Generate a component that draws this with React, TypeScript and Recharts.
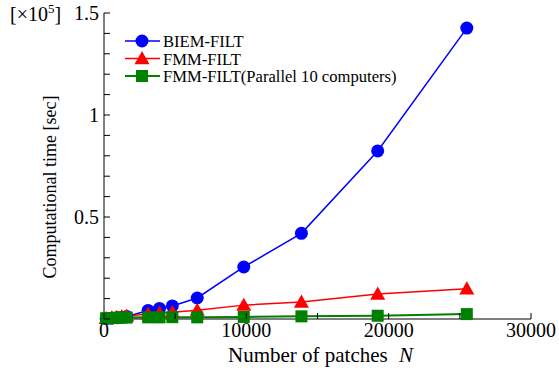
import { LineChart, Line, XAxis, YAxis, Legend, Label } from 'recharts'

// number of patches N
const patches = [150, 550, 900, 1250, 1600, 3100, 3900, 4800, 6550, 9820, 13870, 19230, 25490]
// computational time, in units of 10^5 sec
const biemFilt = [0.002, 0.004, 0.006, 0.009, 0.012, 0.042, 0.052, 0.064, 0.103, 0.255, 0.42, 0.824, 1.426]
const fmmFilt = [0.003, 0.006, 0.009, 0.012, 0.015, 0.025, 0.029, 0.033, 0.043, 0.068, 0.083, 0.122, 0.148]
const fmmParallel = [0.004, 0.005, 0.006, 0.007, 0.007, 0.008, 0.008, 0.009, 0.008, 0.01, 0.013, 0.016, 0.024]

const xTicks = [0, 5000, 10000, 15000, 20000, 25000, 30000]
const xLabels = [0, 10000, 20000, 30000]
const yTicks = [0, 0.1, 0.2, 0.3, 0.4, 0.5, 0.6, 0.7, 0.8, 0.9, 1, 1.1, 1.2, 1.3, 1.4, 1.5]
const yLabels = [0.5, 1, 1.5]

const SERIES = [
  { key: 'biem', name: 'BIEM-FILT', color: '#0000ff', shape: 'circle', width: 1.5 },
  { key: 'fmm', name: 'FMM-FILT', color: '#ff0000', shape: 'triangle', width: 1.5 },
  { key: 'par', name: 'FMM-FILT(Parallel 10 computers)', color: '#008000', shape: 'square', width: 2 },
]

const data = patches.map((n, i) => ({
  n,
  biem: biemFilt[i],
  fmm: fmmFilt[i],
  par: fmmParallel[i],
}))

const FONT = 'Liberation Serif, Tinos, DejaVu Serif, serif'
const TICK_LEN = 6

function Marker({ cx, cy, shape, color }: { cx: number; cy: number; shape: string; color: string }) {
  if (cx == null || cy == null) return null
  if (shape === 'circle') return <circle cx={cx} cy={cy} r={6.5} fill={color} />
  if (shape === 'triangle') {
    const s = 7.5
    return <polygon points={`${cx},${cy - s} ${cx + s},${cy + s * 0.75} ${cx - s},${cy + s * 0.75}`} fill={color} />
  }
  return <rect x={cx - 6} y={cy - 6} width={12} height={12} fill={color} />
}

function BottomTick(props: any) {
  const { x, y, payload } = props
  const show = xLabels.includes(payload.value)
  return (
    <g>
      <line x1={x} y1={y} x2={x} y2={y - TICK_LEN} stroke="#000" />
      {show && (
        <text x={x} y={y + 18} textAnchor="middle" fontSize={20} style={{ fontFamily: FONT }} fill="#000">
          {payload.value}
        </text>
      )}
    </g>
  )
}

function TopTick(props: any) {
  const { x, y } = props
  return <line x1={x} y1={y} x2={x} y2={y + TICK_LEN} stroke="#000" />
}

function LeftTick(props: any) {
  const { x, y, payload } = props
  const show = yLabels.includes(payload.value)
  return (
    <g>
      <line x1={x} y1={y} x2={x + TICK_LEN} y2={y} stroke="#000" />
      {show && (
        <text x={x - 5} y={y + 7} textAnchor="end" fontSize={20} style={{ fontFamily: FONT }} fill="#000">
          {payload.value}
        </text>
      )}
    </g>
  )
}

function RightTick(props: any) {
  const { x, y } = props
  return <line x1={x} y1={y} x2={x - TICK_LEN} y2={y} stroke="#000" />
}

function LegendBox() {
  return (
    <svg width={290} height={56} style={{ display: 'block' }}>
      {SERIES.map((s, i) => {
        const cy = 9 + i * 17.5
        return (
          <g key={s.key}>
            <line x1={7} y1={cy} x2={42} y2={cy} stroke={s.color} strokeWidth={s.width} />
            <Marker cx={24} cy={cy} shape={s.shape} color={s.color} />
            <text x={45} y={cy + 6} fontSize={16.6} style={{ fontFamily: FONT }} fill="#000">
              {s.name}
            </text>
          </g>
        )
      })}
    </svg>
  )
}

export default function App() {
  return (
    <div style={{ position: 'absolute', left: 0, top: 0, width: 559, height: 375, background: '#fff', fontFamily: FONT }}>
      <div style={{ position: 'absolute', left: 10, top: 1, fontSize: 20, color: '#000', zIndex: 2 }}>
        [×10<sup style={{ fontSize: 13 }}>5</sup>]
      </div>
      <LineChart
        width={559}
        height={375}
        data={data}
        margin={{ top: 13, right: 28, bottom: 6, left: 40 }}
        style={{ fontFamily: FONT }}
      >
        <XAxis
          dataKey="n"
          type="number"
          domain={[0, 30000]}
          ticks={xTicks}
          interval={0}
          tickSize={0}
          tickMargin={0}
          tick={<BottomTick />}
          height={50}
          axisLine={{ stroke: '#000' }}
        >
          <Label
            content={(p: any) => {
              const vb = p.viewBox
              return (
                <text x={vb.x + vb.width / 2 + 3} y={vb.y + 43} textAnchor="middle" fontSize={21} style={{ fontFamily: FONT }} fill="#000">
                  Number of patches <tspan dx={6} fontStyle="italic">N</tspan>
                </text>
              )
            }}
          />
        </XAxis>
        <XAxis
          xAxisId="top"
          orientation="top"
          type="number"
          domain={[0, 30000]}
          ticks={xTicks}
          interval={0}
          tickSize={0}
          tickMargin={0}
          tick={<TopTick />}
          height={0}
          axisLine={{ stroke: '#000' }}
        />
        <YAxis
          type="number"
          domain={[0, 1.5]}
          ticks={yTicks}
          interval={0}
          tickSize={0}
          tickMargin={0}
          tick={<LeftTick />}
          width={64}
          axisLine={{ stroke: '#000' }}
        >
          <Label
            content={() => (
              <text
                x={0}
                y={0}
                transform="translate(56 187) rotate(-90)"
                textAnchor="middle"
                fontSize={18}
                style={{ fontFamily: FONT }}
                fill="#000"
              >
                Computational time [sec]
              </text>
            )}
          />
        </YAxis>
        <YAxis
          yAxisId="right"
          orientation="right"
          type="number"
          domain={[0, 1.5]}
          ticks={yTicks}
          interval={0}
          tickSize={0}
          tickMargin={0}
          tick={<RightTick />}
          width={0}
          axisLine={{ stroke: '#000' }}
        />
        <Legend
          layout="horizontal"
          verticalAlign="middle"
          align="center"
          content={() => <LegendBox />}
          wrapperStyle={{ left: 118, top: 32, width: 290 }}
        />
        {SERIES.map((s) => (
          <Line
            key={s.key}
            dataKey={s.key}
            name={s.name}
            stroke={s.color}
            strokeWidth={s.width}
            isAnimationActive={false}
            dot={(p: any) => <Marker key={`${s.key}-${p.index}`} cx={p.cx} cy={p.cy} shape={s.shape} color={s.color} />}
            activeDot={false}
          />
        ))}
      </LineChart>
    </div>
  )
}
